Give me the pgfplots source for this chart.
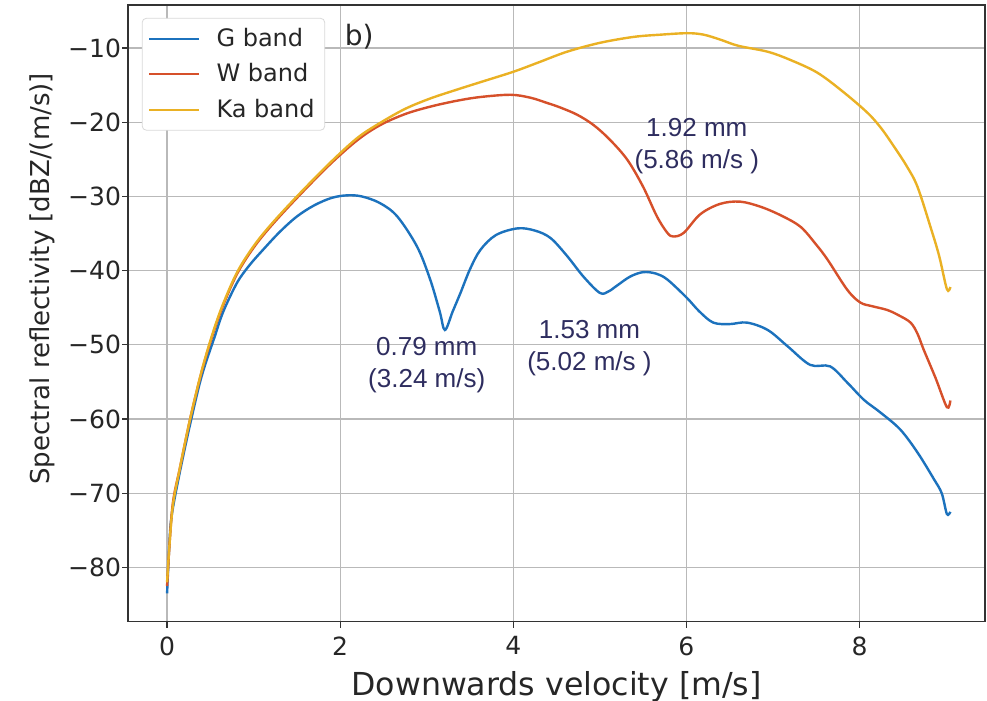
\documentclass[border=0pt]{standalone}
\usepackage{pgfplots}
\pgfplotsset{compat=1.18}
\usepackage{fontspec}
\setmainfont{DejaVu Sans}
\newfontfamily\annfont{Liberation Sans}
\definecolor{cG}{HTML}{1C72BD}
\definecolor{cW}{HTML}{D6502A}
\definecolor{cKa}{HTML}{EAB124}
\definecolor{annot}{HTML}{2E2D5F}
\begin{document}
\begin{tikzpicture}
\begin{axis}[
  scale only axis, width=428pt, height=308pt,
  xmin=-0.45, xmax=9.45, ymin=-87.3, ymax=-4.2,
  xtick={0,2,4,6,8}, xticklabels={0,2,4,6,8},
  ytick={-80,-70,-60,-50,-40,-30,-20,-10},
  yticklabels={−80,−70,−60,−50,−40,−30,−20,−10},
  grid=major, grid style={gray!55, line width=0.6pt},
  axis line style={black!80, line width=0.8pt},
  tick align=outside, tick pos=left, major tick length=3pt,
  tick style={black!80, line width=0.6pt},
  tick label style={font=\fontsize{12.5}{14}\selectfont, text=black!85},
  yticklabel style={xshift=3pt},
  xticklabel style={yshift=-1pt},
  xlabel={Downwards velocity [m/s]},
  ylabel={Spectral reflectivity [dBZ/(m/s)]},
  xlabel style={font=\fontsize{15.8}{18}\selectfont, text=black!85, yshift=-1pt},
  ylabel style={font=\fontsize{13}{15}\selectfont, text=black!85, at={(ticklabel cs:0.556)}},
  legend style={at={(0.016,0.979)}, anchor=north west, draw=gray!30,
    rounded corners=2pt, font=\fontsize{12}{14}\selectfont, text=black!85,
    row sep=3pt, inner sep=3pt},
  legend image code/.code={\draw[#1, sharp plot, line width=1pt] (0pt,0pt) -- (25pt,0pt); \path (31pt,0pt);},
  legend cell align=left,
  every axis plot/.append style={line width=1.2pt, smooth, tension=0.55},
]
\addplot[cG] coordinates {(0,-83.5) (0.03,-76) (0.06,-72.5) (0.15,-67) (0.27,-60.5) (0.40,-54.2) (0.55,-48.9) (0.65,-45.5) (0.81,-41.6) (0.95,-39.3) (1.1,-37.3) (1.3,-34.8) (1.5,-32.7) (1.7,-31.2) (1.9,-30.2) (2.08,-29.85) (2.25,-30.0) (2.46,-30.9) (2.66,-32.7) (2.89,-36.8) (3.04,-41.2) (3.15,-45.5) (3.21,-48.0) (3.3,-45.5) (3.39,-43.0) (3.5,-39.8) (3.62,-37.2) (3.8,-35.2) (4.05,-34.3) (4.25,-34.6) (4.43,-35.6) (4.62,-38) (4.81,-40.8) (5.0,-43.0) (5.1,-42.8) (5.2,-42.0) (5.35,-40.8) (5.5,-40.2) (5.65,-40.4) (5.78,-41.2) (6.0,-43.6) (6.15,-45.5) (6.31,-47.0) (6.5,-47.2) (6.7,-47.0) (6.94,-48.0) (7.17,-50.2) (7.43,-52.7) (7.66,-52.9) (7.86,-55.1) (8.05,-57.4) (8.24,-59.1) (8.47,-61.4) (8.67,-64.5) (8.86,-68.1) (8.95,-70) (9.01,-72.8) (9.05,-72.5)};
\addlegendentry{G band}
\addplot[cW] coordinates {(0,-82.5) (0.06,-72) (0.15,-66.5) (0.27,-59.8) (0.40,-53.6) (0.52,-48.9) (0.64,-44.9) (0.81,-40.4) (1.0,-36.9) (1.2,-34.0) (1.5,-30.2) (1.88,-25.7) (2.2,-22.4) (2.46,-20.4) (2.75,-18.9) (3.04,-17.9) (3.35,-17.1) (3.62,-16.6) (3.97,-16.3) (4.2,-16.7) (4.39,-17.4) (4.54,-18.0) (4.74,-19.0) (4.93,-20.4) (5.12,-22.4) (5.32,-25.1) (5.50,-28.7) (5.66,-32.7) (5.78,-34.9) (5.85,-35.4) (5.97,-34.9) (6.16,-32.4) (6.39,-31.0) (6.62,-30.7) (6.86,-31.4) (7.1,-32.6) (7.32,-34.1) (7.5,-36.5) (7.63,-38.5) (7.86,-42.6) (8.01,-44.3) (8.15,-44.8) (8.32,-45.3) (8.45,-46.0) (8.59,-47.0) (8.67,-48.5) (8.74,-50.6) (8.88,-54.5) (9.01,-58.4) (9.05,-57.5)};
\addlegendentry{W band}
\addplot[cKa] coordinates {(0,-82) (0.06,-72.3) (0.15,-66.5) (0.27,-59.8) (0.40,-53.5) (0.52,-48.7) (0.64,-44.7) (0.81,-40.2) (1.0,-36.7) (1.2,-33.8) (1.5,-30.0) (1.88,-25.5) (2.2,-22.1) (2.46,-20.1) (2.75,-18.2) (3.04,-16.8) (3.35,-15.6) (3.62,-14.6) (4.0,-13.2) (4.3,-11.9) (4.62,-10.5) (5.0,-9.3) (5.39,-8.5) (5.7,-8.2) (6.01,-8.0) (6.2,-8.2) (6.4,-8.9) (6.6,-9.7) (6.94,-10.5) (7.2,-11.6) (7.51,-13.3) (7.8,-15.8) (8.09,-18.7) (8.25,-20.8) (8.40,-23.3) (8.55,-26) (8.67,-28.7) (8.82,-34.1) (8.92,-38) (9.01,-42.5) (9.05,-42.2)};
\addlegendentry{Ka band}
\node[font=\fontsize{14}{16}\selectfont, text=black!85] at (axis cs:2.22,-8.5) {b)};
\node[align=center, text=annot, font=\annfont\fontsize{13}{16}\selectfont] at (axis cs:3.0,-52.7) {0.79 mm\\(3.24 m/s)};
\node[align=center, text=annot, font=\annfont\fontsize{13}{16}\selectfont] at (axis cs:4.88,-50.5) {1.53 mm\\(5.02 m/s )};
\node[align=center, text=annot, font=\annfont\fontsize{13}{16}\selectfont] at (axis cs:6.12,-23.2) {1.92 mm\\(5.86 m/s )};
\end{axis}
\pgfresetboundingbox
\useasboundingbox ([xshift=-64pt,yshift=-39.5pt]current axis.south west) rectangle ([xshift=1pt,yshift=2.5pt]current axis.north east);
\end{tikzpicture}
\end{document}
